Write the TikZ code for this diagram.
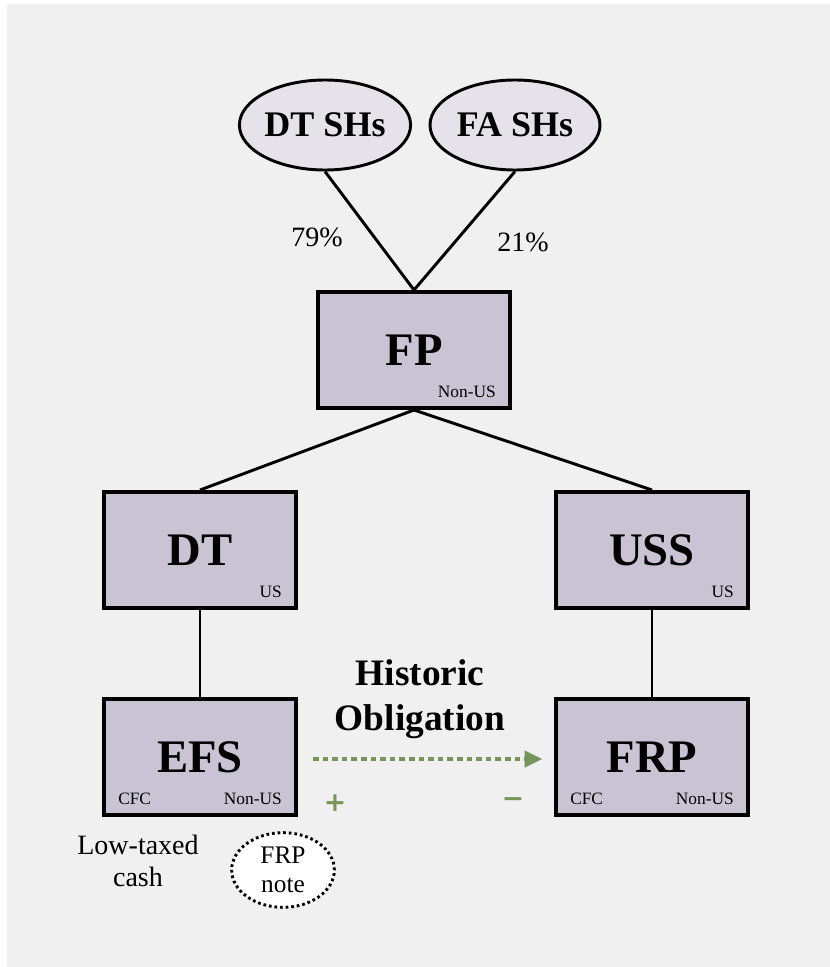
\documentclass[tikz,border=0pt]{standalone}
\usepackage{fontspec}
\setmainfont{Liberation Serif}
\newfontfamily\signfont{DejaVu Sans}
\usetikzlibrary{shapes.geometric,arrows.meta}
\definecolor{panelgray}{HTML}{F0F0F0}
\definecolor{boxfill}{HTML}{C9C3D3}
\definecolor{ovalfill}{HTML}{E5E2E9}
\definecolor{flowgreen}{HTML}{77945A}
\tikzset{
  entity/.style={draw=black, line width=3pt, fill=boxfill, minimum width=144pt,
    minimum height=87pt, inner sep=0pt, font=\fontsize{35}{40}\selectfont\bfseries},
  holder/.style={ellipse, draw=black, line width=2.2pt, fill=ovalfill, minimum width=127.5pt,
    minimum height=67.5pt, inner sep=0pt, font=\fontsize{27}{32}\selectfont\bfseries},
  tag/.style={inner sep=0pt, font=\fontsize{13}{15}\selectfont},
  pct/.style={inner sep=0pt, font=\fontsize{21}{24}\selectfont},
  link/.style={line width=2.2pt, black},
  sign/.style={inner sep=0pt, text=flowgreen, font=\signfont\fontsize{20}{24}\selectfont\bfseries},
}
\begin{document}
\begin{tikzpicture}[x=0.75pt, y=-0.75pt]
  \useasboundingbox (0,0) rectangle (830,967);
  \fill[white] (-10,-10) rectangle (840,977);
  \fill[panelgray] (7,4) rectangle (840,977);

  % shareholders
  \node[holder] (dtsh) at (325,125) {DT SHs};
  \node[holder] (fash) at (515,125) {FA SHs};

  % corporate entities
  \node[entity] (fp)  at (414,350) {FP};
  \node[entity] (dt)  at (200,550) {DT};
  \node[entity] (uss) at (652,550) {USS};
  \node[entity] (efs) at (200,757) {EFS};
  \node[entity] (frp) at (652,757) {FRP};

  % residence tags
  \node[tag, anchor=east] (fptag)   at ([xshift=-12pt, yshift=13.5pt]fp.south east) {Non-US};
  \node[tag, anchor=east] (dttag)   at ([xshift=-12pt, yshift=13.5pt]dt.south east) {US};
  \node[tag, anchor=east] (usstag)  at ([xshift=-12pt, yshift=13.5pt]uss.south east) {US};
  \node[tag, anchor=east] (efstag)  at ([xshift=-12pt, yshift=13.5pt]efs.south east) {Non-US};
  \node[tag, anchor=west] (efscfc)  at ([xshift=12pt, yshift=13.5pt]efs.south west) {CFC};
  \node[tag, anchor=east] (frptag)  at ([xshift=-12pt, yshift=13.5pt]frp.south east) {Non-US};
  \node[tag, anchor=west] (frpcfc)  at ([xshift=12pt, yshift=13.5pt]frp.south west) {CFC};

  % ownership lines
  \draw[link] (dtsh.south) -- (fp.north);
  \draw[link] (fash.south) -- (fp.north);
  \draw[link] (fp.south) -- (dt.north);
  \draw[link] (fp.south) -- (uss.north);
  \draw[link] (dt.south) -- (efs.north);
  \draw[link] (uss.south) -- (frp.north);

  \node[pct] (p79) at (317,237) {79\%};
  \node[pct] (p21) at (523,242) {21\%};

  % historic obligation between the CFCs
  \node[inner sep=0pt, font=\fontsize{28}{34}\selectfont\bfseries, align=center] (hist) at (420,699)
    {Historic\\Obligation};
  \coordinate (arrA) at (313,759);
  \coordinate (arrB) at (542,759);
  \draw[flowgreen, line width=2.6pt, dash pattern=on 4.2pt off 3pt,
        -{Triangle[length=13pt, width=13pt, line width=0pt]}] (arrA) -- (arrB);
  \node[sign] (plus)  at (335,803) {+};
  \node[sign] (minus) at (513,803) {\char"2212};

  % cash and note held by EFS
  \node[inner sep=0pt, align=center, font=\fontsize{21}{24}\selectfont] (cash) at (138,861)
    {Low-taxed\\cash};
  \node[ellipse, draw=black, fill=white, line width=2.2pt, dash pattern=on 2pt off 2.2pt,
        minimum width=77pt, minimum height=56pt, inner sep=0pt, align=center,
        font=\fontsize{19}{22}\selectfont] (note) at (283,870) {FRP\\note};
\end{tikzpicture}
\end{document}
